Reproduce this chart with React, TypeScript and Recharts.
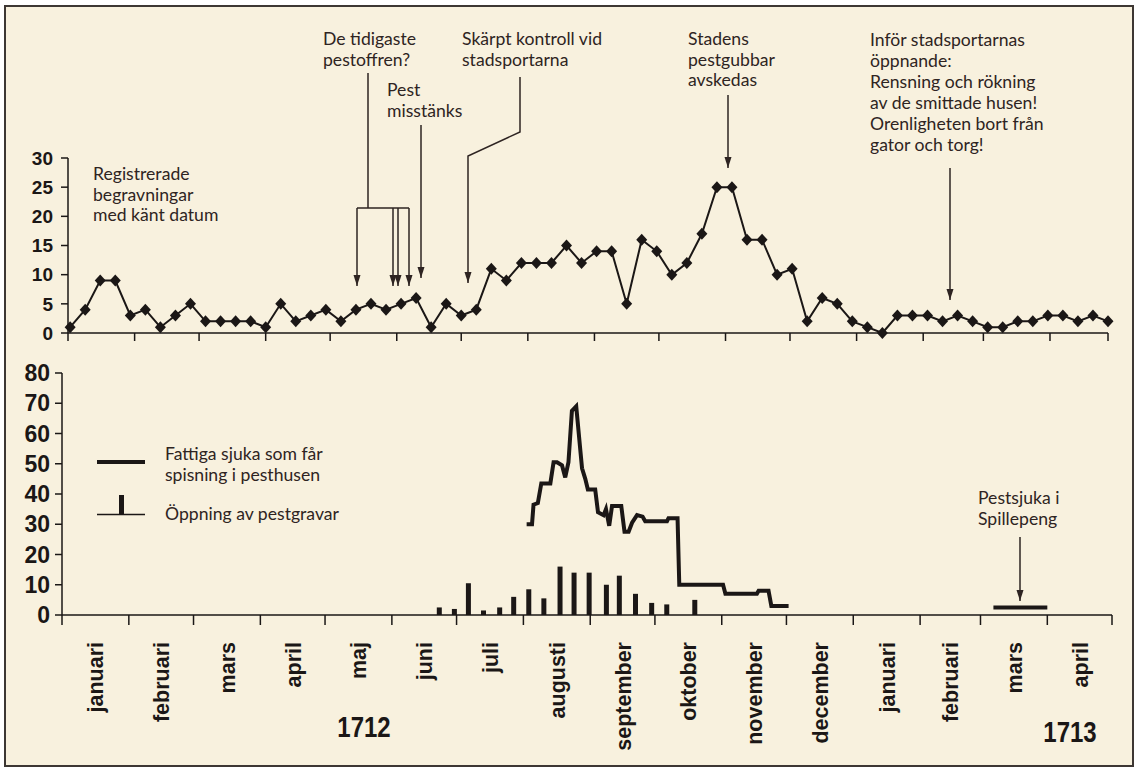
import { LineChart, ComposedChart, Line, Bar, XAxis, YAxis } from 'recharts'

const INK = '#1b1716'
const TEXT = '#2e2422'
const SANS = 'Lato, "Open Sans", sans-serif'
const AXIS_FONT = '"Liberation Sans", Arial, sans-serif'

// month names along the bottom axis, 1712 then 1713
const monthNames = [
  'januari', 'februari', 'mars', 'april', 'maj', 'juni', 'juli', 'augusti',
  'september', 'oktober', 'november', 'december', 'januari', 'februari', 'mars', 'april',
]
// day number (from 1 Jan 1712) on which each month starts; Sweden had a 30 February in 1712
const monthStartDays = [0, 31, 61, 92, 122, 153, 183, 214, 245, 275, 306, 336, 367, 398, 426, 457]
const topEndDay = 484
const bottomEndDay = 487

// registered burials with known date, one value per week from early January 1712
const burialCounts = [
  1, 4, 9, 9, 3, 4, 1, 3, 5, 2,
  2, 2, 2, 1, 5, 2, 3, 4, 2, 4,
  5, 4, 5, 6, 1, 5, 3, 4, 11, 9,
  12, 12, 12, 15, 12, 14, 14, 5, 16, 14,
  10, 12, 17, 25, 25, 16, 16, 10, 11, 2,
  6, 5, 2, 1, 0, 3, 3, 3, 2, 3,
  2, 1, 1, 2, 2, 3, 3, 2, 3, 2,
]
const firstWeekDay = 1
const daysPerWeek = 7

// poor sick persons fed in the plague houses
const poorSickDays = [
  215.5, 218, 218.7, 220.7, 222.3, 226.5, 228, 229.6, 231.9, 233.4,
  234.9, 236.5, 238.5, 240.4, 241.2, 242.7, 243.9, 247.3, 248.6, 251.2,
  252.3, 253.8, 255.1, 259.4, 260.9, 262.8, 264.4, 266.7, 269.3, 270.5,
  280.6, 281.3, 285.5, 286.3, 306.6, 307.7, 322.3, 323.1, 327.7, 329, 337,
]
const poorSickCounts = [
  30, 30, 36.5, 37, 43.5, 43.5, 50.5, 50.5, 49.5, 45.5,
  50.5, 67.5, 69, 54.5, 48.5, 45, 41.5, 41.5, 34, 33,
  35, 29.5, 36, 36, 27.5, 27.5, 30.5, 33, 32.5, 31,
  31, 32, 32, 10, 10, 7, 7, 8, 8, 3, 3,
]

// plague-sick in Spillepeng, March 1713
const spillepengDays = [432, 457]
const spillepengCounts = [2.5, 2.5]

// opening of plague graves
const graveDays = [175, 182, 188.5, 195.5, 203, 209.5, 216.5, 223.5, 231, 237.5, 244.5, 252.5, 258.5, 266, 273.5, 280.5, 293.5]
const graveCounts = [2.5, 2, 10.5, 1.5, 2.5, 6, 8.5, 5.5, 16, 14, 14, 10, 13, 7, 4, 3.5, 5]

const topTicks = [0, 5, 10, 15, 20, 25, 30]
const bottomTicks = [0, 10, 20, 30, 40, 50, 60, 70, 80]

const burialData = burialCounts.map((count, i) => ({ day: firstWeekDay + daysPerWeek * i, count }))
const poorSickData = poorSickDays.map((day, i) => ({ day, value: poorSickCounts[i] }))
const spillepengData = spillepengDays.map((day, i) => ({ day, value: spillepengCounts[i] }))
const graveData = graveDays.map((day, i) => ({ day, count: graveCounts[i] }))

const monthEdges = [...monthStartDays, bottomEndDay]
const labelDays = monthStartDays.map((d, i) => (d + monthEdges[i + 1]) / 2)

function Diamond(props: any) {
  const { cx, cy, index } = props
  if (cx == null || cy == null) return <g key={index} />
  return (
    <path
      key={index}
      d={`M${cx},${cy - 6} L${cx + 5.5},${cy} L${cx},${cy + 6} L${cx - 5.5},${cy} Z`}
      fill={INK}
    />
  )
}

// narrow grave bar, centred on its day whatever band width recharts computes
function GraveBar(props: any) {
  const { x, y, width, height } = props
  if (x == null || !height) return <g />
  return <rect x={x + width / 2 - 2.5} y={y} width={5} height={height} fill={INK} />
}

function MonthTick(props: any) {
  const { x, y, payload } = props
  const v = payload.value
  if (monthEdges.some((d) => Math.abs(d - v) < 0.01)) {
    return <line x1={x} y1={y} x2={x} y2={y + 10} stroke={INK} strokeWidth={1.5} />
  }
  const idx = labelDays.findIndex((d) => Math.abs(d - v) < 0.01)
  const tx = x + 8
  const ty = y + 27
  return (
    <text
      x={tx}
      y={ty}
      transform={`rotate(-90, ${tx}, ${ty})`}
      textAnchor="end"
      fontFamily={AXIS_FONT}
      fontWeight={700}
      fontSize={21.5}
      fill={INK}
    >
      {monthNames[idx]}
    </text>
  )
}

function Arrow({ points }: { points: [number, number][] }) {
  const [tx, ty] = points[points.length - 1]
  const d = points.map(([x, y], i) => `${i ? 'L' : 'M'}${x},${y}`).join(' ')
  return (
    <g>
      <path d={d} fill="none" stroke={TEXT} strokeWidth={1.5} />
      <path d={`M${tx - 3.5},${ty - 11} L${tx + 3.5},${ty - 11} L${tx},${ty} Z`} fill={TEXT} />
    </g>
  )
}

function Note({ x, y, lines, step = 20.7 }: { x: number; y: number; lines: string[]; step?: number }) {
  return (
    <text x={x} y={y} fontFamily={SANS} fontSize={17.6} fill={TEXT}>
      {lines.map((l, i) => (
        <tspan key={i} x={x} dy={i === 0 ? 0 : step}>
          {l}
        </tspan>
      ))}
    </text>
  )
}

export default function App() {
  const axisStroke = { stroke: INK, strokeWidth: 1.5 }
  return (
    <div style={{ position: 'absolute', left: 0, top: 0, width: 1136, height: 769, background: '#fff' }}>
      <div
        style={{
          position: 'absolute',
          left: 4,
          top: 5,
          width: 1126,
          height: 758,
          border: '2px solid #3d3733',
          background: '#f8f1de',
        }}
      />
      <div style={{ position: 'absolute', left: 0, top: 0 }}>
        <LineChart width={1136} height={769} data={burialData} margin={{ top: 158, right: 28, bottom: 424, left: 0 }}>
          <XAxis
            type="number"
            dataKey="day"
            domain={[0, topEndDay]}
            ticks={[...monthStartDays, topEndDay]}
            interval={0}
            tickFormatter={() => ''}
            tickSize={8}
            height={12}
            axisLine={axisStroke}
            tickLine={axisStroke}
          />
          <YAxis
            domain={[0, 30]}
            ticks={topTicks}
            interval={0}
            width={68}
            tickSize={7}
            tickMargin={8}
            axisLine={axisStroke}
            tickLine={axisStroke}
            tick={{ fill: INK, fontSize: 19, fontWeight: 700, fontFamily: AXIS_FONT }}
          />
          <Line
            dataKey="count"
            type="linear"
            stroke={INK}
            strokeWidth={2}
            dot={Diamond}
            activeDot={false}
            isAnimationActive={false}
          />
        </LineChart>
      </div>
      <div style={{ position: 'absolute', left: 0, top: 0 }}>
        <ComposedChart width={1136} height={769} data={graveData} margin={{ top: 373, right: 24, bottom: 4, left: 0 }}>
          <XAxis
            type="number"
            dataKey="day"
            domain={[0, bottomEndDay]}
            ticks={[...monthEdges, ...labelDays].sort((a, b) => a - b)}
            interval={0}
            height={150}
            tickSize={0}
            tickMargin={0}
            tickLine={false}
            axisLine={axisStroke}
            tick={<MonthTick />}
          />
          <YAxis
            domain={[0, 80]}
            ticks={bottomTicks}
            interval={0}
            width={62}
            tickSize={7}
            tickMargin={5}
            axisLine={axisStroke}
            tickLine={axisStroke}
            tick={{ fill: INK, fontSize: 23, fontWeight: 700, fontFamily: AXIS_FONT }}
          />
          <Bar dataKey="count" barSize={5} fill={INK} shape={GraveBar} isAnimationActive={false} />
          <Line
            data={poorSickData}
            dataKey="value"
            type="linear"
            stroke={INK}
            strokeWidth={4}
            dot={false}
            activeDot={false}
            isAnimationActive={false}
          />
          <Line
            data={spillepengData}
            dataKey="value"
            type="linear"
            stroke={INK}
            strokeWidth={4}
            dot={false}
            activeDot={false}
            isAnimationActive={false}
          />
        </ComposedChart>
      </div>
      <svg width={1136} height={769} style={{ position: 'absolute', left: 0, top: 0, pointerEvents: 'none' }}>
        <Note x={93} y={180} lines={['Registrerade', 'begravningar', 'med känt datum']} />
        <Note x={323} y={45} lines={['De tidigaste', 'pestoffren?']} />
        <Note x={387} y={96} lines={['Pest', 'misstänks']} />
        <Note x={462} y={45} lines={['Skärpt kontroll vid', 'stadsportarna']} />
        <Note x={688} y={45} lines={['Stadens', 'pestgubbar', 'avskedas']} />
        <Note
          x={870}
          y={46}
          step={21}
          lines={[
            'Inför stadsportarnas',
            'öppnande:',
            'Rensning och rökning',
            'av de smittade husen!',
            'Orenligheten bort från',
            'gator och torg!',
          ]}
        />
        <Note x={978} y={504} step={21} lines={['Pestsjuka i', 'Spillepeng']} />

        <path d="M368,73 L368,208 M357,208 L409,208" fill="none" stroke={TEXT} strokeWidth={1.5} />
        <Arrow points={[[357, 208], [357, 286]]} />
        <Arrow points={[[393, 208], [393, 286]]} />
        <Arrow points={[[398, 208], [398, 286]]} />
        <Arrow points={[[409, 208], [409, 286]]} />
        <Arrow points={[[421, 125], [421, 278]]} />
        <Arrow points={[[520, 77], [520, 132], [468, 156], [468, 283]]} />
        <Arrow points={[[728, 95], [728, 168]]} />
        <Arrow points={[[950, 168], [950, 300]]} />
        <Arrow points={[[1020, 537], [1020, 601]]} />

        <line x1={97} y1={462} x2={145} y2={462} stroke={INK} strokeWidth={4} />
        <Note x={165} y={460} step={21} lines={['Fattiga sjuka som får', 'spisning i pesthusen']} />
        <line x1={97} y1={514.5} x2={145} y2={514.5} stroke={INK} strokeWidth={1.5} />
        <rect x={119} y={495} width={5} height={19} fill={INK} />
        <Note x={165} y={520} lines={['Öppning av pestgravar']} />

        <text
          transform="translate(364,737) scale(1,1.2)"
          textAnchor="middle"
          fontFamily={AXIS_FONT}
          fontWeight={700}
          fontSize={24}
          fill={INK}
        >
          1712
        </text>
        <text
          transform="translate(1070,742) scale(1,1.2)"
          textAnchor="middle"
          fontFamily={AXIS_FONT}
          fontWeight={700}
          fontSize={24}
          fill={INK}
        >
          1713
        </text>
      </svg>
    </div>
  )
}
